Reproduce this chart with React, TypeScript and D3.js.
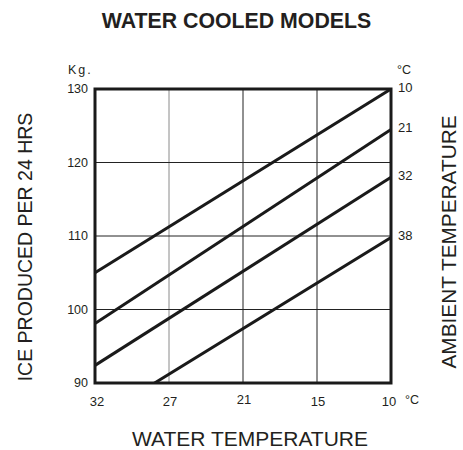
import React from 'react'
import * as d3 from 'd3'

// water temperature (x, reversed, evenly spaced)
const waterLabels = ['32', '27', '21', '15', '10']
// ice produced, kg / 24 h
const kgTicks = [90, 100, 110, 120, 130]
// ambient temperature series (°C)
const ambientLabels = ['10', '21', '32', '38']
// kg at water temp 32 and at water temp 10, per ambient series
const kgAt32 = [105, 98.1, 92.4, 85.0]
const kgAt10 = [130, 124.5, 118.0, 109.8]

const font = '"Liberation Sans", Arial, Helvetica, sans-serif'
const ink = '#231f20'

const App = () => {
  const left = 95
  const right = 391
  const top = 89
  const bottom = 383

  const x = d3.scaleLinear().domain([0, waterLabels.length - 1]).range([left, right])
  const y = d3.scaleLinear().domain([90, 130]).range([bottom, top])

  const line = d3
    .line<[number, number]>()
    .x(d => x(d[0]))
    .y(d => y(d[1]))

  const series = ambientLabels.map((label, i) => ({
    label,
    pts: [
      [0, kgAt32[i]],
      [waterLabels.length - 1, kgAt10[i]],
    ] as [number, number][],
  }))

  return (
    <svg
      width={463}
      height={450}
      style={{ position: 'absolute', left: 0, top: 0, background: '#fff' }}
      fontFamily={font}
    >
      <defs>
        <clipPath id="plot">
          <rect x={left} y={top} width={right - left} height={bottom - top} />
        </clipPath>
      </defs>

      <text x={236.5} y={28} textAnchor="middle" fontSize={21.3} fontWeight="bold" fill={ink}>
        WATER COOLED MODELS
      </text>

      {/* grid */}
      {waterLabels.map((_, i) =>
        i > 0 && i < waterLabels.length - 1 ? (
          <line
            key={'gx' + i}
            x1={x(i)}
            x2={x(i)}
            y1={top}
            y2={bottom}
            stroke={i === 1 ? '#8a8a8a' : '#222'}
            strokeWidth={1}
          />
        ) : null
      )}
      {kgTicks.slice(1, -1).map(v => (
        <line key={'gy' + v} x1={left} x2={right} y1={y(v)} y2={y(v)} stroke="#222" strokeWidth={1} />
      ))}

      {/* series */}
      <g clipPath="url(#plot)">
        {series.map(s => (
          <path key={s.label} d={line(s.pts) || ''} fill="none" stroke="#1a1a1a" strokeWidth={3} />
        ))}
      </g>

      <rect
        x={left}
        y={top}
        width={right - left}
        height={bottom - top}
        fill="none"
        stroke="#1a1a1a"
        strokeWidth={3}
      />

      {/* y ticks */}
      {kgTicks.map(v => (
        <text key={'ty' + v} x={88} y={y(v)} dy="0.35em" textAnchor="end" fontSize={12.5} fill={ink}>
          {v}
        </text>
      ))}
      <text x={68} y={74} fontSize={12.5} letterSpacing={2} fill={ink}>
        Kg.
      </text>

      {/* x ticks */}
      {waterLabels.map((l, i) => (
        <text key={'tx' + l} x={x(i) + (i === 0 ? 2 : i === 4 ? -2 : 1)} y={i === 2 ? 404 : 406} textAnchor="middle" fontSize={13} fill={ink}>
          {l}
        </text>
      ))}
      <text x={405} y={404} fontSize={12.5} fill={ink}>
        °C
      </text>

      {/* ambient labels at line ends */}
      {series.map(s => (
        <text
          key={'ta' + s.label}
          x={398}
          y={y(s.pts[1][1]) - 2}
          dy="0.35em"
          fontSize={13}
          fill={ink}
        >
          {s.label}
        </text>
      ))}
      <text x={397} y={74} fontSize={12.5} fill={ink}>
        °C
      </text>

      {/* axis titles */}
      <text
        transform="translate(32,247) rotate(-90)"
        textAnchor="middle"
        fontSize={19.5}
        fill={ink}
      >
        ICE PRODUCED PER 24 HRS
      </text>
      <text
        transform="translate(456,242) rotate(-90)"
        textAnchor="middle"
        fontSize={20.8}
        fill={ink}
      >
        AMBIENT TEMPERATURE
      </text>
      <text x={250} y={446} textAnchor="middle" fontSize={21} fill={ink}>
        WATER TEMPERATURE
      </text>
    </svg>
  )
}

export default App
